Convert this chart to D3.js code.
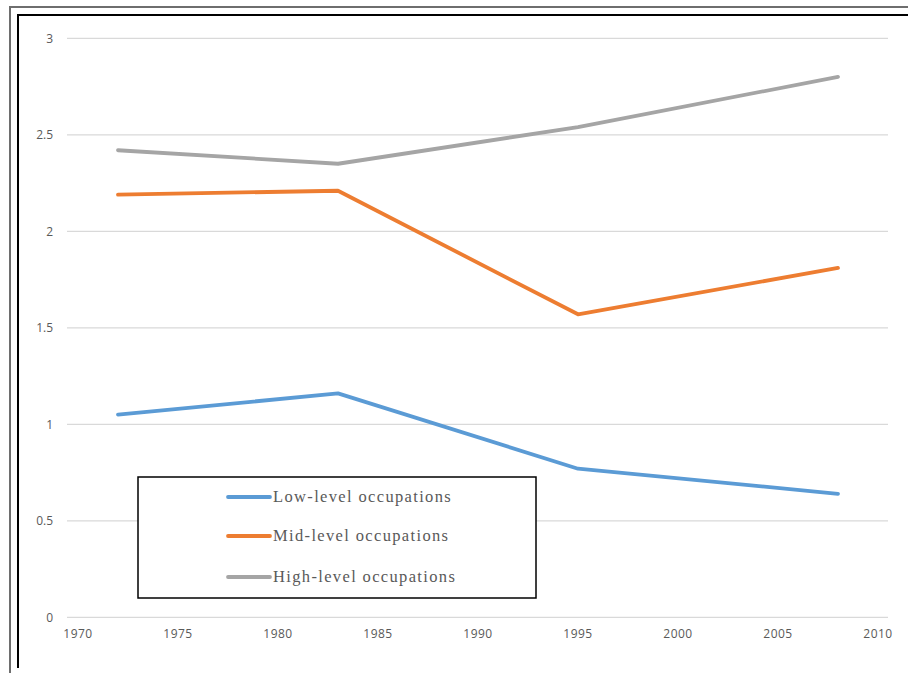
<!DOCTYPE html>
<html><head><meta charset="utf-8">
<script src="https://cdn.jsdelivr.net/npm/d3@7"></script>
<style>
html,body{margin:0;padding:0;background:#fff;}
svg{display:block;}
</style></head>
<body>
<svg id="chart" width="908" height="673"></svg>
<script>
const years = [1972, 1983, 1995, 2008];
const lowLevel = [1.05, 1.16, 0.77, 0.64];
const midLevel = [2.19, 2.21, 1.57, 1.81];
const highLevel = [2.42, 2.35, 2.54, 2.80];
const seriesNames = ["Low-level occupations", "Mid-level occupations", "High-level occupations"];
const seriesColors = ["#5b9bd5", "#ed7d31", "#a5a5a5"];
const xTicks = [1970, 1975, 1980, 1985, 1990, 1995, 2000, 2005, 2010];
const yTicks = [0, 0.5, 1, 1.5, 2, 2.5, 3];

const series = [lowLevel, midLevel, highLevel];
const svg = d3.select("#chart");

// frame
svg.append("path").attr("d","M10,673 V7 H908").attr("fill","none").attr("stroke","#6e6e6e").attr("stroke-width",2);
svg.append("path").attr("d","M18,668 V15 H908").attr("fill","none").attr("stroke","#000").attr("stroke-width",2);

const x = d3.scaleLinear().domain([1970, 2010]).range([78, 878]);
const y = d3.scaleLinear().domain([0, 3]).range([617.3, 38.3]);

// gridlines
svg.append("g").selectAll("line").data(yTicks).join("line")
  .attr("x1", x(1970) - 11).attr("x2", x(2010) + 10)
  .attr("y1", d => y(d)).attr("y2", d => y(d))
  .attr("stroke", "#d9d9d9").attr("stroke-width", 1.2);

// y labels
svg.append("g").selectAll("text").data(yTicks).join("text")
  .attr("x", 53).attr("y", d => y(d)).attr("dy", "0.35em")
  .attr("text-anchor", "end")
  .attr("font-family", "'Open Sans', sans-serif").attr("font-size", 12)
  .attr("fill", "#595959")
  .text(d => d);

// x labels
svg.append("g").selectAll("text").data(xTicks).join("text")
  .attr("x", d => x(d)).attr("y", 638)
  .attr("text-anchor", "middle")
  .attr("font-family", "'Open Sans', sans-serif").attr("font-size", 12)
  .attr("letter-spacing", 0.5)
  .attr("fill", "#595959")
  .text(d => d);

// lines
const line = d3.line().x((d, i) => x(years[i])).y(d => y(d));
svg.append("g").selectAll("path").data(series).join("path")
  .attr("d", d => line(d))
  .attr("fill", "none")
  .attr("stroke", (d, i) => seriesColors[i])
  .attr("stroke-width", 3.8)
  .attr("stroke-linejoin", "round")
  .attr("stroke-linecap", "round");

// legend
const lg = svg.append("g");
lg.append("rect").attr("x", 138).attr("y", 477).attr("width", 398).attr("height", 121)
  .attr("fill", "#fff").attr("stroke", "#000").attr("stroke-width", 1.5);
const rowsY = [497, 536, 577];
const items = lg.selectAll("g.item").data(seriesNames).join("g").attr("class", "item");
items.append("line")
  .attr("x1", 228).attr("x2", 270)
  .attr("y1", (d, i) => rowsY[i]).attr("y2", (d, i) => rowsY[i])
  .attr("stroke", (d, i) => seriesColors[i]).attr("stroke-width", 3.8)
  .attr("stroke-linecap", "round");
items.append("text")
  .attr("x", 273).attr("y", (d, i) => rowsY[i]).attr("dy", "0.33em")
  .attr("font-family", "'Liberation Serif', 'Times New Roman', serif")
  .attr("font-size", 16.5).attr("letter-spacing", 1.35)
  .attr("fill", "#595959")
  .text(d => d);
</script>
</body></html>
